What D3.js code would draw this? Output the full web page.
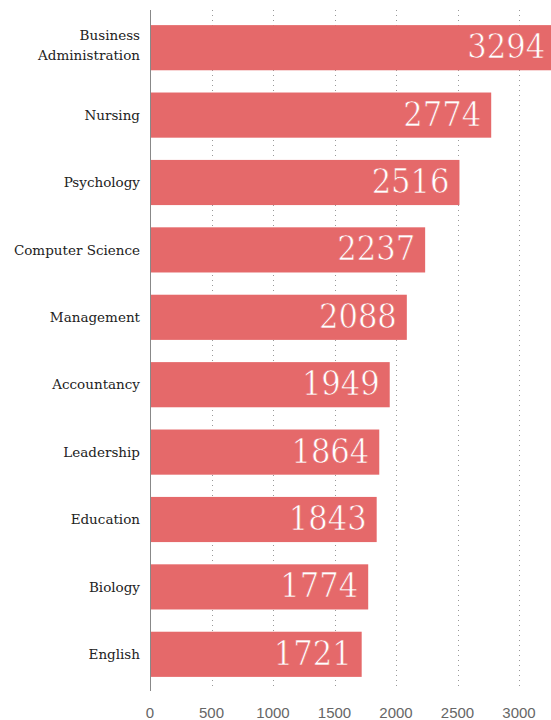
<!DOCTYPE html>
<html>
<head>
<meta charset="utf-8">
<script src="https://cdn.jsdelivr.net/npm/d3@7"></script>
<style>
  body { margin: 0; background: #fff; overflow: hidden; }
</style>
</head>
<body>
<div id="chart"></div>
<script>
// majors and number of graduates
const majors = ["Business Administration", "Nursing", "Psychology", "Computer Science",
  "Management", "Accountancy", "Leadership", "Education", "Biology", "English"];
const graduates = [3294, 2774, 2516, 2237, 2088, 1949, 1864, 1843, 1774, 1721];
const xTicks = [0, 500, 1000, 1500, 2000, 2500, 3000];

const width = 551, height = 720;
const plotLeft = 150, plotTop = 14, plotBottom = 688;
const barColor = '#e5696a';

const svg = d3.select('#chart')
  .append('svg')
  .attr('width', width)
  .attr('height', height);

const x = d3.scaleLinear()
  .domain([0, 3000])
  .range([plotLeft, plotLeft + 369]);

const y = d3.scaleBand()
  .domain(majors)
  .range([plotTop, plotBottom])
  .paddingInner(0.33)
  .paddingOuter(0.165);

// dotted gridlines (behind bars)
svg.append('g')
  .selectAll('line')
  .data(xTicks.slice(1))
  .enter()
  .append('line')
  .attr('x1', d => Math.round(x(d)) + 0.5)
  .attr('x2', d => Math.round(x(d)) + 0.5)
  .attr('y1', 10)
  .attr('y2', 690)
  .attr('stroke', '#999')
  .attr('stroke-width', 1)
  .attr('stroke-dasharray', '1,4');

// bars
svg.append('g')
  .selectAll('rect')
  .data(majors)
  .enter()
  .append('rect')
  .attr('x', x(0))
  .attr('y', d => y(d))
  .attr('width', (d, i) => x(graduates[i]) - x(0))
  .attr('height', y.bandwidth())
  .attr('fill', barColor);

// value labels inside bars (thin look: bar-coloured stroke painted over the fill)
svg.append('g')
  .selectAll('text')
  .data(majors)
  .enter()
  .append('text')
  .attr('x', (d, i) => x(graduates[i]) - 10)
  .attr('y', d => y(d) + y.bandwidth() / 2)
  .attr('dy', '0.31em')
  .attr('text-anchor', 'end')
  .attr('fill', '#fff')
  .attr('stroke', barColor)
  .attr('stroke-width', 0.6)
  .style('font-family', '"DejaVu Serif Condensed", "DejaVu Serif", serif')
  .style('font-stretch', 'condensed')
  .style('font-size', '34px')
  .text((d, i) => graduates[i]);

// category labels
const labels = svg.append('g')
  .selectAll('text')
  .data(majors)
  .enter()
  .append('text')
  .attr('x', plotLeft - 10)
  .attr('y', d => y(d) + y.bandwidth() / 2)
  .attr('text-anchor', 'end')
  .attr('fill', '#222')
  .style('font-family', '"DejaVu Serif", serif')
  .style('font-size', '13.5px');

labels.each(function (d) {
  const words = d === "Business Administration" ? ["Business", "Administration"] : [d];
  const el = d3.select(this);
  words.forEach((w, i) => {
    el.append('tspan')
      .attr('x', plotLeft - 10)
      .attr('dy', i === 0 ? (words.length > 1 ? '-0.55em' : '0.35em') : '1.45em')
      .text(w);
  });
});

// vertical axis line
svg.append('line')
  .attr('x1', plotLeft + 0.5)
  .attr('x2', plotLeft + 0.5)
  .attr('y1', 10)
  .attr('y2', 691)
  .attr('stroke', '#888')
  .attr('stroke-width', 1);

// x tick labels
svg.append('g')
  .selectAll('text')
  .data(xTicks)
  .enter()
  .append('text')
  .attr('x', d => x(d))
  .attr('y', 718)
  .attr('text-anchor', 'middle')
  .attr('fill', '#666')
  .style('font-family', '"Liberation Sans", Arial, sans-serif')
  .style('font-size', '15px')
  .text(d => d);
</script>
</body>
</html>
